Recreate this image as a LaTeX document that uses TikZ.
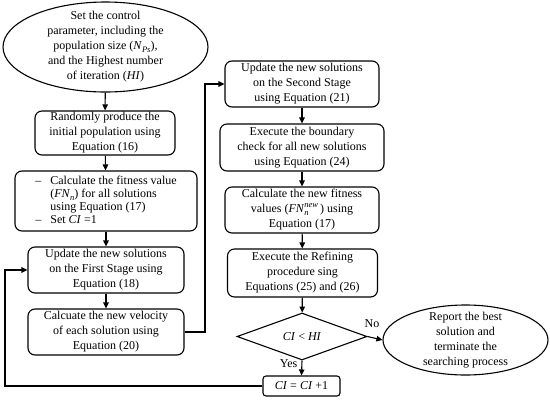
\documentclass[tikz,border=0pt]{standalone}
\usepackage{fontspec}
\setmainfont{Liberation Serif}
\usetikzlibrary{shapes.geometric,arrows.meta}
\newcommand{\vi}[1]{\textit{#1}}
\newcommand{\subsc}[1]{\raisebox{-0.25em}{\fontsize{8.5}{9}\selectfont\textit{#1}}}
\newcommand{\supsc}[1]{\raisebox{0.45em}{\fontsize{8.5}{9}\selectfont\textit{#1}}}
\begin{document}
\begin{tikzpicture}[x=1pt,y=-1pt,
  every node/.style={font=\fontsize{12}{15}\selectfont},
  box/.style={draw,line width=1.1pt,rounded corners=7pt,align=center,inner sep=0pt},
  oval/.style={draw,line width=1.1pt,ellipse,inner sep=0pt},
  arr/.style={line width=1.1pt,-{Triangle[length=6pt,width=5.5pt]}},
  lbl/.style={inner sep=1pt}]
\useasboundingbox (0,0) rectangle (550,400);
% left column
\node[oval,minimum width=205pt,minimum height=90pt] (e1) at (105.5,47) {};
\node[align=center] (e1t) at (e1.center) {Set the control\\parameter, including the\\population size (\vi{N}\subsc{Ps}),\\and the Highest number\\of iteration (\vi{HI})};
\node[box,minimum width=140pt,minimum height=44pt] (b1) at (105,133) {Randomly produce the\\initial population using\\Equation (16)};
\node[box,minimum width=182pt,minimum height=60pt] (b2) at (106,201) {\begin{tabular}{@{}l@{\hspace{9pt}}l@{}}
–& Calculate the fitness value\\[-2pt]
 & (\vi{FN}\subsc{n}) for all solutions\\[-2pt]
 & using Equation (17)\\[-2pt]
–& Set \vi{CI} =1\end{tabular}};
\node[box,minimum width=156pt,minimum height=46pt] (b3) at (106,270) {Update the new solutions\\on the First Stage using\\Equation (18)};
\node[box,minimum width=156pt,minimum height=46pt] (b4) at (106,332) {Calcuate the new velocity\\of each solution using\\Equation (20)};
% right column
\node[box,minimum width=154pt,minimum height=46pt] (b5) at (302,84) {Update the new solutions\\on the Second Stage\\using Equation (21)};
\node[box,minimum width=164pt,minimum height=47pt] (b6) at (302,147.5) {Execute the boundary\\check for all new solutions\\using Equation (24)};
\node[box,minimum width=154pt,minimum height=46pt] (b7) at (302,210) {Calculate the new fitness\\values (\vi{FN}\rlap{\subsc{n}}\supsc{new}\,) using\\Equation (17)};
\node[box,minimum width=150pt,minimum height=48pt] (b8) at (302.5,273) {Execute the Refining\\procedure sing\\Equations (25) and (26)};
\node[draw,line width=1.1pt,diamond,inner sep=0pt,aspect=2.77,minimum width=130pt,minimum height=47pt] (d) at (302,336.5) {\vi{CI} < \vi{HI}};
\node[box,rounded corners=3pt,minimum width=77pt,minimum height=20pt] (b9) at (301.5,386) {\vi{CI} = \vi{CI} +1};
\node[oval,minimum width=165pt,minimum height=70pt] (e2) at (465.5,340) {};
\node[align=center] (e2t) at (e2.center) {Report the best\\solution and\\terminate the\\searching process};
\coordinate (rc) at (205,332);
\coordinate (lc) at (5,386);
% connectors
\draw[arr] (e1) -- (b1);
\draw[arr] (b1) -- (b2);
\draw[arr] (b2) -- (b3);
\draw[arr] (b3) -- (b4);
\draw[arr] (b4.east) -- (rc) |- (b5.west);
\draw[arr] (b5) -- (b6);
\draw[arr] (b6) -- (b7);
\draw[arr] (b7) -- (b8);
\draw[arr] (b8) -- (d);
\draw[arr] (d.east) -- node[lbl,above,pos=0.3,yshift=8pt] (no) {No} (e2.west);
\draw[arr] (d.south) -- node[lbl,left,pos=0.2,xshift=-3pt] (yes) {Yes} (b9.north);
\draw[arr] (b9.west) -- (lc) |- (b3.west);
\end{tikzpicture}
\end{document}
